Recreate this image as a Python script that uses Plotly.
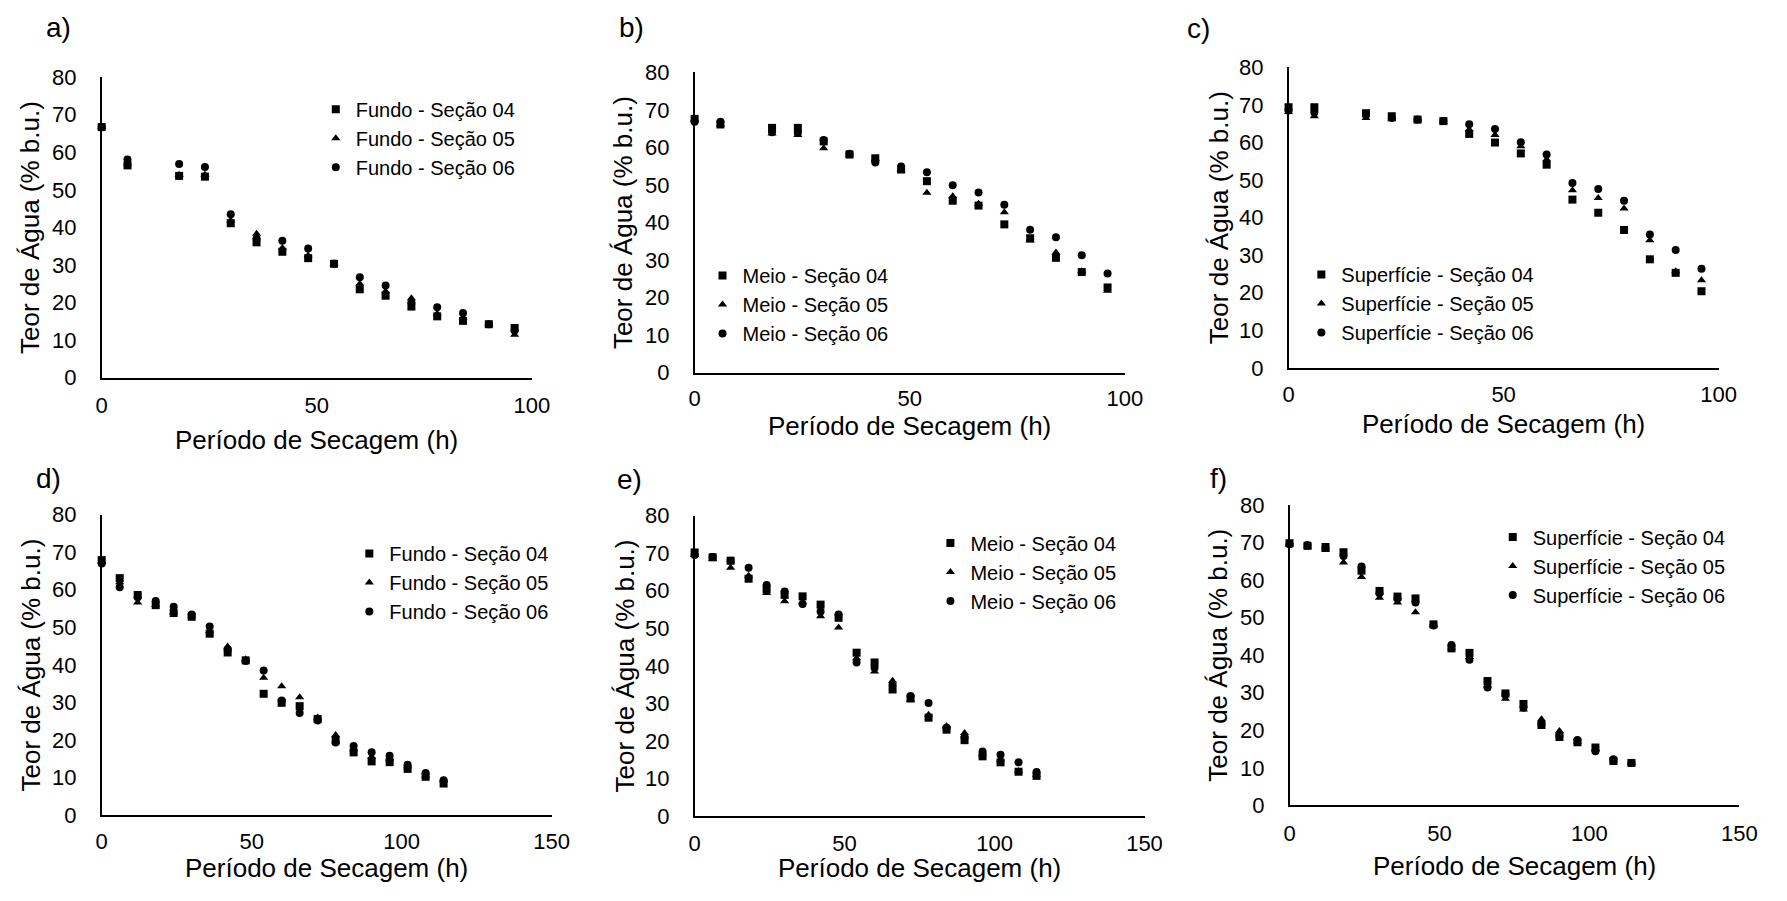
import plotly.graph_objects as go

# ---------------- data ----------------
hours_abc = [0, 6, 18, 24, 30, 36, 42, 48, 54, 60, 66, 72, 78, 84, 90, 96]
hours_def = [0, 6, 12, 18, 24, 30, 36, 42, 48, 54, 60, 66, 72, 78, 84, 90, 96, 102, 108, 114]

a_s04 = [66.7, 56.5, 53.7, 53.5, 41.1, 36.0, 33.5, 31.8, 30.3, 23.5, 21.8, 18.9, 16.3, 15.1, 14.2, 13.2]
a_s05 = [66.7, 57.0, 54.0, 54.0, 41.8, 38.3, 34.5, 32.5, 30.3, 25.0, 23.0, 21.1, 17.0, 16.0, 14.2, 11.4]
a_s06 = [66.7, 58.1, 56.9, 56.1, 43.5, 37.0, 36.4, 34.4, 30.3, 26.7, 24.5, 20.0, 18.7, 17.2, 14.2, 12.5]

b_s04 = [67.6, 66.1, 65.2, 65.2, 61.6, 58.1, 57.1, 54.1, 51.0, 45.8, 44.5, 39.5, 35.8, 30.6, 26.8, 22.7]
b_s05 = [67.5, 66.0, 63.7, 63.3, 59.8, 58.0, 57.0, 54.0, 47.9, 47.0, 45.0, 42.7, 35.2, 32.0, 27.0, 21.8]
b_s06 = [66.8, 66.8, 64.0, 63.8, 62.0, 58.3, 56.0, 54.9, 53.4, 49.9, 48.0, 44.7, 38.1, 36.1, 31.3, 26.4]

c_s04 = [69.4, 69.4, 67.8, 67.0, 66.1, 65.7, 62.3, 60.0, 57.1, 54.1, 44.8, 41.3, 36.7, 28.9, 25.3, 20.4]
c_s05 = [68.1, 67.0, 66.5, 66.2, 66.0, 65.5, 63.5, 62.0, 59.0, 55.5, 47.3, 45.2, 42.4, 34.0, 25.7, 23.3]
c_s06 = [68.5, 68.0, 67.5, 66.5, 66.1, 65.7, 64.9, 63.6, 60.1, 56.8, 49.2, 47.6, 44.5, 35.5, 31.4, 26.4]

d_s04 = [67.9, 63.1, 58.6, 55.9, 53.8, 52.8, 48.3, 43.3, 41.2, 32.3, 29.9, 29.0, 25.6, 19.9, 16.7, 14.3, 14.1, 12.3, 10.2, 8.4]
d_s05 = [67.5, 62.0, 56.6, 56.0, 54.0, 53.0, 49.0, 44.9, 41.5, 36.6, 34.3, 31.4, 26.0, 21.3, 17.5, 15.5, 15.0, 13.0, 10.5, 9.3]
d_s06 = [67.0, 60.7, 58.0, 57.0, 55.5, 53.4, 50.2, 44.0, 41.0, 38.5, 30.5, 27.2, 25.2, 19.3, 18.4, 16.7, 15.8, 13.4, 11.2, 9.3]

e_s04 = [70.2, 68.9, 68.0, 63.2, 60.4, 58.9, 58.5, 56.3, 52.8, 43.5, 40.9, 33.7, 31.3, 26.2, 23.0, 20.2, 15.9, 14.3, 11.8, 10.7]
e_s05 = [69.5, 68.5, 66.1, 64.0, 59.4, 57.2, 57.0, 53.2, 50.2, 42.0, 38.5, 36.0, 31.0, 27.0, 23.9, 22.1, 16.5, 15.0, 12.0, 11.0]
e_s06 = [69.5, 69.0, 68.0, 66.1, 61.5, 59.8, 56.5, 54.5, 53.7, 40.9, 39.5, 35.0, 32.0, 30.1, 23.5, 21.0, 17.2, 16.3, 14.3, 11.7]

f_s04 = [69.8, 69.1, 68.8, 67.4, 62.5, 57.1, 55.6, 55.1, 48.2, 41.8, 40.6, 33.1, 29.8, 27.0, 21.4, 18.2, 16.8, 15.4, 11.8, 11.3]
f_s05 = [69.5, 69.0, 68.0, 64.7, 60.8, 55.3, 54.0, 51.4, 48.0, 42.0, 39.5, 32.0, 28.4, 25.5, 22.9, 19.8, 17.0, 15.0, 12.0, 11.3]
f_s06 = [69.5, 69.3, 68.5, 66.4, 63.6, 56.5, 55.0, 54.0, 47.9, 42.7, 38.8, 31.4, 29.5, 26.0, 21.5, 18.5, 17.4, 14.4, 12.3, 11.3]

panel_labels = ["a)", "b)", "c)", "d)", "e)", "f)"]
positions = ["Fundo", "Meio", "Superfície", "Fundo", "Meio", "Superfície"]
section_names = ["Seção 04", "Seção 05", "Seção 06"]
x_title = "Período de Secagem (h)"
y_title = "Teor de Água (% b.u.)"
yticks = [0, 10, 20, 30, 40, 50, 60, 70, 80]
xticks_abc = [0, 50, 100]
xticks_def = [0, 50, 100, 150]

series = [
    (hours_abc, [a_s04, a_s05, a_s06]),
    (hours_abc, [b_s04, b_s05, b_s06]),
    (hours_abc, [c_s04, c_s05, c_s06]),
    (hours_def, [d_s04, d_s05, d_s06]),
    (hours_def, [e_s04, e_s05, e_s06]),
    (hours_def, [f_s04, f_s05, f_s06]),
]

# ---------------- layout (pixels) ----------------
W, H = 1787, 901
FONT = "Liberation Sans, Arial, sans-serif"
# plot box: left, right, top, bottom ; x max
boxes = [
    (97, 533, 67, 376, 100),
    (698, 1134, 62, 371, 100),
    (1300, 1736, 57, 366, 100),
    (97, 553, 517, 826, 150),
    (698, 1154, 518, 827, 150),
    (1301, 1757, 507, 816, 150),
]
# legend: text start x, first row center y
legends = [(354, 108), (746, 279), (1353, 278), (388, 565), (977, 554), (1547, 548)]
panel_label_pos = [(53, 16), (634, 16), (1209, 17), (43, 480), (632, 481), (1229, 480)]
ytitle_x = [25, 626, 1229, 25, 627, 1229]
xtitle_y = [440, 426, 424, 880, 880, 878]
xtick_standoff = [7, 5, 6, 6, 7, 7]

symbols = ["square", "triangle-up", "circle"]
sizes = [8, 8, 8]

fx = lambda p: p / W
fy = lambda p: 1 - p / H

fig = go.Figure()
layout = dict(
    width=W, height=H, autosize=False,
    margin=dict(l=0, r=0, t=0, b=0),
    paper_bgcolor="white", plot_bgcolor="white",
    font=dict(family=FONT, color="black"),
    showlegend=True,
)
annotations = []

for i, (hours, ys) in enumerate(series):
    k = "" if i == 0 else str(i + 1)
    xa, ya = "xaxis" + k, "yaxis" + k
    lg = "legend" + k
    x0, x1, yt, yb, xmax = boxes[i]
    for j in range(3):
        fig.add_trace(go.Scatter(
            x=hours, y=ys[j], mode="markers",
            name=f"{positions[i]} - {section_names[j]}",
            marker=dict(symbol=symbols[j], size=sizes[j], color="black", line=dict(width=0)),
            xaxis="x" + k, yaxis="y" + k, legend=lg, cliponaxis=False,
        ))
    layout[xa] = dict(
        domain=[fx(x0), fx(x1)], anchor="y" + k, range=[0, xmax],
        tickvals=xticks_abc if xmax == 100 else xticks_def,
        showline=True, linecolor="black", linewidth=1.5, ticks="",
        showgrid=False, zeroline=False, tickfont=dict(size=22, family=FONT, color="black"),
        ticklabelstandoff=xtick_standoff[i],
    )
    layout[ya] = dict(
        domain=[fy(yb), fy(yt)], anchor="x" + k, range=[0, 80],
        tickvals=yticks,
        showline=True, linecolor="black", linewidth=1.5, ticks="",
        showgrid=False, zeroline=False, tickfont=dict(size=22, family=FONT, color="black"),
        ticklabelstandoff=19,
    )
    tx, ty = legends[i]
    layout[lg] = dict(
        x=fx(tx - 40), y=fy(ty - 28), xanchor="left", yanchor="top",
        bgcolor="rgba(0,0,0,0)", borderwidth=0,
        font=dict(size=20, family=FONT, color="black"),
        itemwidth=30,
    )
    annotations.append(dict(
        text=x_title, xref="paper", yref="paper",
        x=fx((x0 + x1) / 2), y=fy(xtitle_y[i]), xanchor="center", yanchor="middle",
        showarrow=False, font=dict(size=26, family=FONT, color="black"),
    ))
    annotations.append(dict(
        text=y_title, xref="paper", yref="paper", textangle=-90,
        x=fx(ytitle_x[i]), y=fy((yt + yb) / 2), xanchor="center", yanchor="middle",
        showarrow=False, font=dict(size=26, family=FONT, color="black"),
    ))
    px, py = panel_label_pos[i]
    annotations.append(dict(
        text=panel_labels[i], xref="paper", yref="paper",
        x=fx(px), y=fy(py), xanchor="center", yanchor="middle",
        showarrow=False, font=dict(size=28, family=FONT, color="black"),
    ))

layout["annotations"] = annotations
fig.update_layout(**layout)
fig.write_html("out.html")
